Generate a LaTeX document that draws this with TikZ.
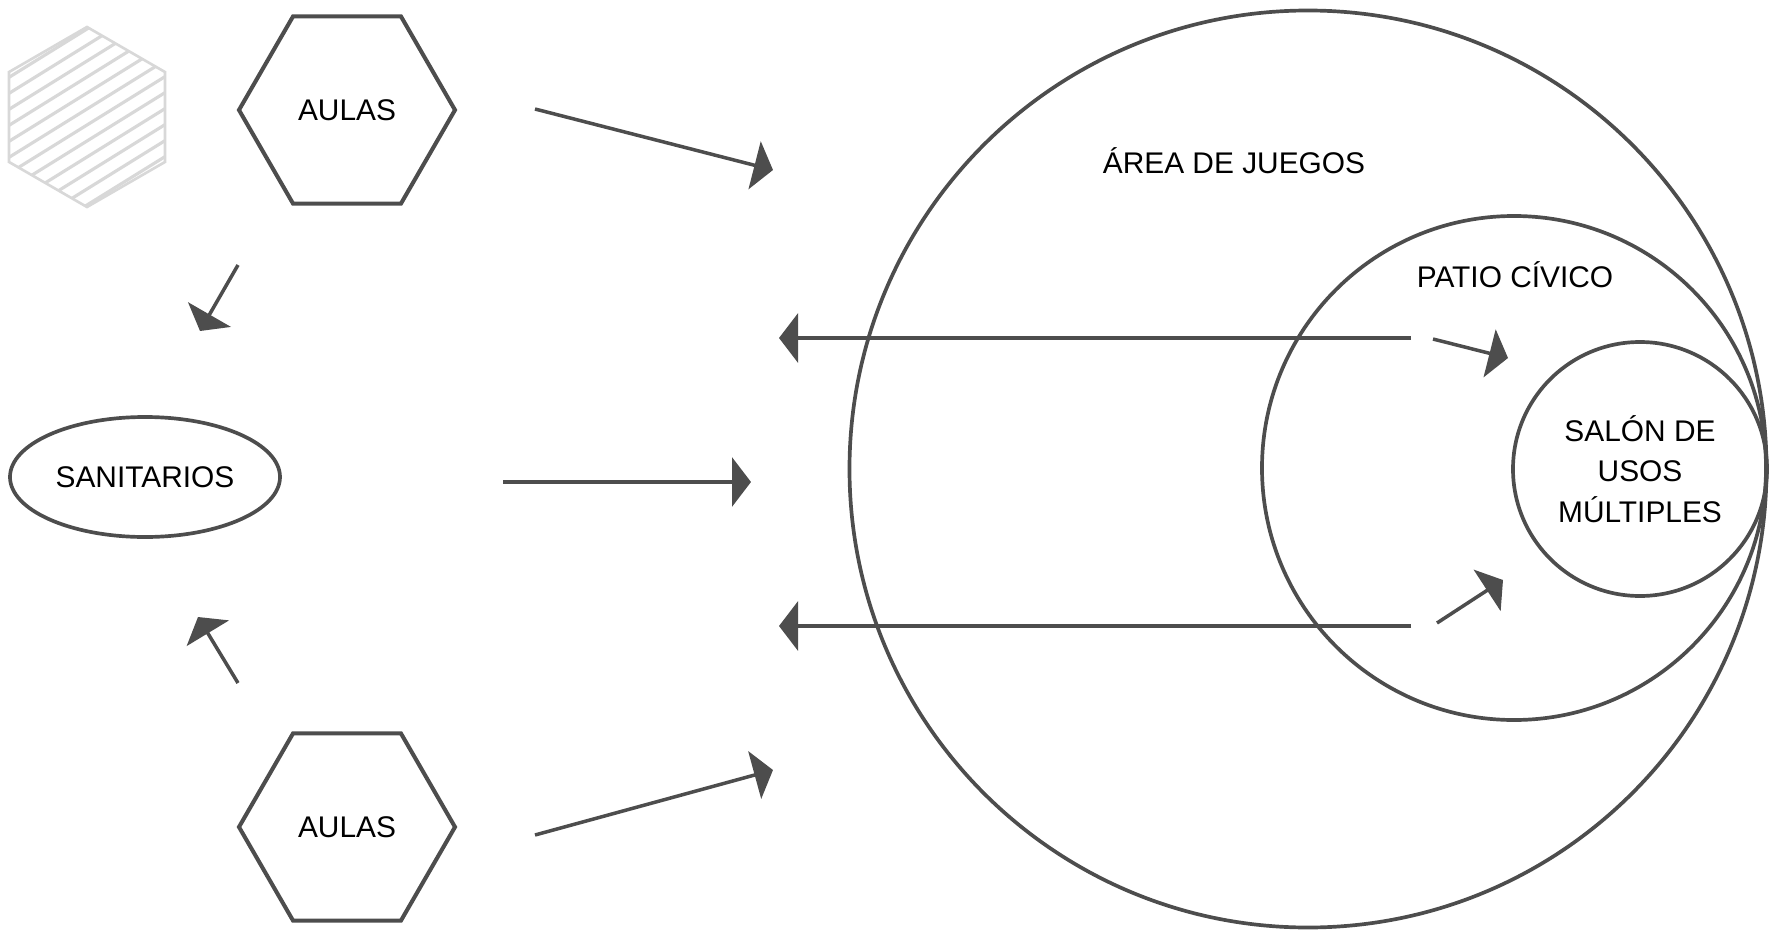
\documentclass[tikz,border=0pt]{standalone}
\usepackage{fontspec}
\setmainfont{Liberation Sans}
\usetikzlibrary{arrows.meta,shapes.geometric,positioning,calc}
\definecolor{trazo}{HTML}{4D4D4D}
\definecolor{boceto}{HTML}{D8D8D8}

\begin{document}
\begin{tikzpicture}[x=0.2mm,y=-0.2mm, >={Triangle[length=0.38cm,width=0.98cm]},
    every node/.style={font=\fontsize{17}{23}\selectfont,text=black},
    rotulo/.style={text height=12.2pt,text depth=0pt},
    aulas/.style={regular polygon,regular polygon sides=6,draw=trazo,line width=2.3pt,
      minimum size=4.32cm,inner sep=0pt,rotulo},
    sanit/.style={ellipse,draw=trazo,line width=2.1pt,minimum width=5.4cm,
      minimum height=2.4cm,inner sep=0pt,rotulo},
    zona/.style={circle,draw=trazo,line width=2.1pt,inner sep=0pt},
    flecha/.style={draw=trazo,line width=2pt,->},
    hexboceto/.style={regular polygon,regular polygon sides=6,regular polygon rotate=30,
      draw=boceto,line width=1.5pt,minimum size=3.6cm,inner sep=0pt}]
  \useasboundingbox (0,0) rectangle (1774,932);
  % zonas
  \node[zona,minimum size=18.34cm] (juegos) at (1308,469) {};
  \node[zona,minimum size=10.08cm] (patio) at (1514,468) {};
  \node[zona,minimum size=5.08cm,align=center] (salon) at (1640,469) {SALÓN DE\\USOS\\MÚLTIPLES};
  \node[rotulo] (tjuegos) at (1234,163) {ÁREA DE JUEGOS};
  \node[rotulo] (tpatio) at (1515,277) {PATIO CÍVICO};
  % aulas y sanitarios
  \node[hexboceto,path picture={
      \foreach \c in {-88,-72,...,90}
        \draw[boceto,line width=1.8pt] ($(path picture bounding box.center)+(-100,\c+62)$) -- ++(200,-124);
    }] (vacio) at (87,117) {};
  \node[aulas] (aulas1) at (347,110) {AULAS};
  \node[aulas] (aulas2) at (347,827) {AULAS};
  \node[sanit] (sanit) at (145,477) {SANITARIOS};
  % extremos de flechas
  \coordinate (a1s) at (535,109);  \coordinate (a1e) at (773,170);
  \coordinate (a2s) at (238,265);  \coordinate (a2e) at (200,331);
  \coordinate (s1s) at (503,482);  \coordinate (s1e) at (751,482);
  \coordinate (b2s) at (238,683);  \coordinate (b2e) at (198,617);
  \coordinate (b1s) at (535,835);  \coordinate (b1e) at (773,770);
  \coordinate (p1s) at (1411,338); \coordinate (p1e) at (779,338);
  \coordinate (p2s) at (1411,626); \coordinate (p2e) at (779,626);
  \coordinate (u1s) at (1433,339); \coordinate (u1e) at (1508,358);
  \coordinate (u2s) at (1437,623); \coordinate (u2e) at (1503,580);
  \draw[flecha] (a1s) -- (a1e);
  \draw[flecha] (a2s) -- (a2e);
  \draw[flecha] (s1s) -- (s1e);
  \draw[flecha] (b2s) -- (b2e);
  \draw[flecha] (b1s) -- (b1e);
  \draw[flecha] (p1s) -- (p1e);
  \draw[flecha] (p2s) -- (p2e);
  \draw[flecha] (u1s) -- (u1e);
  \draw[flecha] (u2s) -- (u2e);
\end{tikzpicture}
\end{document}
